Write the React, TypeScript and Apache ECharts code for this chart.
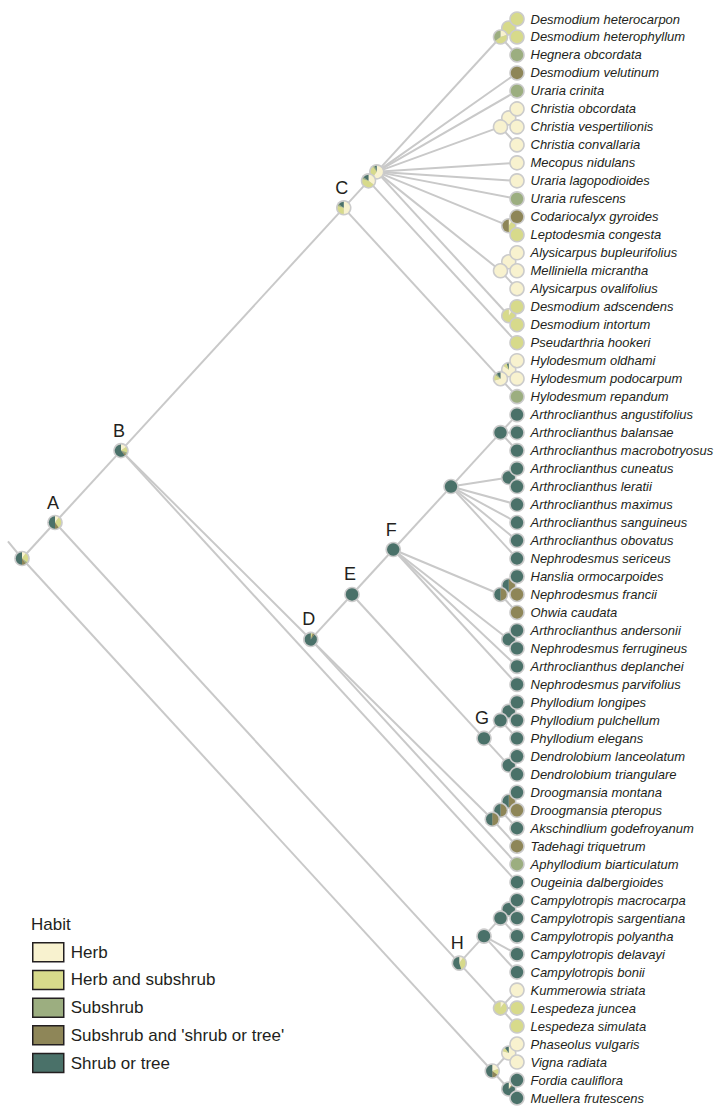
import React, { useEffect, useRef } from "react";
import * as echarts from "echarts";

const habitNames = ["Herb", "Herb and subshrub", "Subshrub", "Subshrub and 'shrub or tree'", "Shrub or tree"];
const habitColors = ["#f8f2cf", "#d7da8b", "#9cae80", "#8e8658", "#4a7169"];

const tipNames = [
  "Desmodium heterocarpon", "Desmodium heterophyllum", "Hegnera obcordata", "Desmodium velutinum",
  "Uraria crinita", "Christia obcordata", "Christia vespertilionis", "Christia convallaria",
  "Mecopus nidulans", "Uraria lagopodioides", "Uraria rufescens", "Codariocalyx gyroides",
  "Leptodesmia congesta", "Alysicarpus bupleurifolius", "Melliniella micrantha", "Alysicarpus ovalifolius",
  "Desmodium adscendens", "Desmodium intortum", "Pseudarthria hookeri", "Hylodesmum oldhami",
  "Hylodesmum podocarpum", "Hylodesmum repandum", "Arthroclianthus angustifolius", "Arthroclianthus balansae",
  "Arthroclianthus macrobotryosus", "Arthroclianthus cuneatus", "Arthroclianthus leratii", "Arthroclianthus maximus",
  "Arthroclianthus sanguineus", "Arthroclianthus obovatus", "Nephrodesmus sericeus", "Hanslia ormocarpoides",
  "Nephrodesmus francii", "Ohwia caudata", "Arthroclianthus andersonii", "Nephrodesmus ferrugineus",
  "Arthroclianthus deplanchei", "Nephrodesmus parvifolius", "Phyllodium longipes", "Phyllodium pulchellum",
  "Phyllodium elegans", "Dendrolobium lanceolatum", "Dendrolobium triangulare", "Droogmansia montana",
  "Droogmansia pteropus", "Akschindlium godefroyanum", "Tadehagi triquetrum", "Aphyllodium biarticulatum",
  "Ougeinia dalbergioides", "Campylotropis macrocarpa", "Campylotropis sargentiana", "Campylotropis polyantha",
  "Campylotropis delavayi", "Campylotropis bonii", "Kummerowia striata", "Lespedeza juncea",
  "Lespedeza simulata", "Phaseolus vulgaris", "Vigna radiata", "Fordia cauliflora", "Muellera frutescens",
];

// 0 Herb, 1 Herb and subshrub, 2 Subshrub, 3 Subshrub and 'shrub or tree', 4 Shrub or tree
const tipHabits = [
  1, 1, 2, 3, 2, 0, 0, 0, 0, 0, 2, 3, 1, 0, 0, 0, 1, 1, 1, 0, 0, 2,
  4, 4, 4, 4, 4, 4, 4, 4, 4,
  4, 3, 3,
  4, 4, 4, 4,
  4, 4, 4, 4, 4,
  4, 3, 4, 3, 2,
  4,
  4, 4, 4, 4, 4,
  0, 1, 1,
  0, 0, 4, 4,
];

// topology (tips referenced by index), internal nodes labelled
const cladeC2 = "(((0,1)n1,2)n2,3,4,((5,6)n3,7)n4,8,9,10,(11,12)n5,((13,14)n6,15)n7,(16,17)n8)n9";
const cladeC = `((${cladeC2},18)n10,((19,20)n11,21)n12)C`;
const cladeF = "(((22,23,24)n13,(25,26)n14,27,28,29,30)n15,((31,32)n16,33)n17,(34,35)n18,36,37)F";
const cladeG = "(((38,39)n19,40)n20,(41,42)n21)G";
const cladeD = `((${cladeF},${cladeG})E,(((43,44)n22,45)n23,46)n24,47)D`;
const cladeH = "((((49,50)n25,51)n26,52,53)n27,(54,55,56)n28)H";
const cladeOut = "((57,58)n29,(59,60)n30)n31";
const newick = `(((${cladeC},${cladeD},48)B,${cladeH})A,${cladeOut})root`;

// ancestral habit proportions [Herb, Herb&subshrub, Subshrub, Subshrub&shrub/tree, Shrub/tree]
const nodePieIds = [
  "root", "A", "B", "C", "n10", "n9", "n2", "n1", "n3", "n4", "n5", "n6", "n7", "n8", "n11", "n12",
  "D", "E", "F", "G", "n13", "n14", "n15", "n16", "n17", "n18", "n19", "n20", "n21", "n22", "n23", "n24",
  "H", "n25", "n26", "n27", "n28", "n29", "n30", "n31",
];
const nodePieValues = [
  [0.1, 0.25, 0.05, 0.1, 0.5], [0.1, 0.3, 0.0, 0.1, 0.5], [0.15, 0.15, 0.05, 0.05, 0.6],
  [0.5, 0.3, 0.05, 0, 0.15], [0.35, 0.45, 0.05, 0, 0.15], [0.6, 0.3, 0.05, 0, 0.05],
  [0.2, 0.45, 0.35, 0, 0], [0, 1, 0, 0, 0], [1, 0, 0, 0, 0], [1, 0, 0, 0, 0],
  [0.1, 0.4, 0, 0.5, 0], [1, 0, 0, 0, 0], [1, 0, 0, 0, 0], [0.1, 0.9, 0, 0, 0],
  [0.85, 0.1, 0, 0, 0.05], [0.7, 0.15, 0.05, 0, 0.1],
  [0, 0.05, 0, 0.05, 0.9], [0, 0, 0, 0, 1], [0, 0, 0, 0, 1], [0, 0, 0, 0, 1],
  [0, 0, 0, 0, 1], [0, 0, 0, 0, 1], [0, 0, 0, 0, 1], [0, 0, 0, 0.5, 0.5], [0, 0, 0, 0.5, 0.5],
  [0, 0, 0, 0, 1], [0, 0, 0, 0, 1], [0, 0, 0, 0, 1], [0, 0, 0, 0, 1],
  [0, 0, 0, 0.5, 0.5], [0, 0, 0, 0.5, 0.5], [0, 0, 0, 0.5, 0.5],
  [0.1, 0.35, 0, 0, 0.55], [0, 0, 0, 0, 1], [0, 0, 0, 0, 1], [0, 0, 0, 0, 1],
  [0.1, 0.9, 0, 0, 0], [0.8, 0.1, 0, 0, 0.1], [0.1, 0, 0, 0.05, 0.85], [0.2, 0.15, 0, 0.15, 0.5],
];
const cladeLetters = ["A", "B", "C", "D", "E", "F", "G", "H"];

type TreeNode = { id: string; children: TreeNode[]; tip: number | null; x: number; y: number };

function parseNewick(s: string): TreeNode {
  let i = 0;
  const parse = (): TreeNode => {
    const node: TreeNode = { id: "", children: [], tip: null, x: 0, y: 0 };
    if (s[i] === "(") {
      i++;
      node.children.push(parse());
      while (s[i] === ",") {
        i++;
        node.children.push(parse());
      }
      i++;
    }
    let lbl = "";
    while (i < s.length && ",()".indexOf(s[i]) < 0) {
      lbl += s[i];
      i++;
    }
    if (node.children.length === 0) node.tip = parseInt(lbl, 10);
    else node.id = lbl;
    return node;
  };
  return parse();
}

const FONT = '"Liberation Sans", Arial, sans-serif';

export default function App() {
  const ref = useRef<HTMLDivElement>(null);
  useEffect(() => {
    if (!ref.current) return;
    const chart = echarts.init(ref.current, undefined, { renderer: "svg" });
    const N = tipNames.length;
    const root = parseNewick(newick);
    const internal: TreeNode[] = [];
    const tips: TreeNode[] = [];
    const layout = (n: TreeNode): number[] => {
      if (n.tip !== null) {
        n.x = N - 1;
        n.y = n.tip;
        tips.push(n);
        return [n.tip];
      }
      const t: number[] = [];
      n.children.forEach((c) => t.push(...layout(c)));
      n.x = N - t.length;
      n.y = t.reduce((a, b) => a + b, 0) / t.length;
      internal.push(n);
      return t;
    };
    layout(root);
    const edges: number[][] = [[root.x - 1.7, root.y - 0.95, root.x, root.y]];
    const walk = (n: TreeNode) => {
      n.children.forEach((c) => {
        edges.push([n.x, n.y, c.x, c.y]);
        walk(c);
      });
    };
    walk(root);
    const pieData = internal.map((n) => {
      const k = nodePieIds.indexOf(n.id);
      const v = k >= 0 ? nodePieValues[k] : [0, 0, 0, 0, 1];
      return [n.x, n.y, ...v];
    });
    tips.sort((a, b) => (a.tip as number) - (b.tip as number));
    const tipData = tips.map((n) => {
      const v = [0, 0, 0, 0, 0];
      v[tipHabits[n.tip as number]] = 1;
      return [n.x, n.y, ...v];
    });
    const letterNodes = internal.filter((n) => cladeLetters.indexOf(n.id) >= 0);
    const letterData = letterNodes.map((n) => [n.x, n.y]);

    const pieRender = (withLabel: boolean) => (params: any, api: any) => {
      const c = api.coord([api.value(0), api.value(1)]);
      const children: any[] = [
        { type: "circle", shape: { cx: c[0], cy: c[1], r: 7.8 }, style: { fill: "#cbcbcb" } },
      ];
      let a = -Math.PI / 2;
      for (let k = 0; k < 5; k++) {
        const v = api.value(2 + k);
        if (v <= 0) continue;
        if (v >= 0.999) {
          children.push({ type: "circle", shape: { cx: c[0], cy: c[1], r: 6.2 }, style: { fill: habitColors[k] } });
        } else {
          children.push({
            type: "sector",
            shape: { cx: c[0], cy: c[1], r: 6.2, r0: 0, startAngle: a, endAngle: a + v * Math.PI * 2, clockwise: true },
            style: { fill: habitColors[k] },
          });
        }
        a += v * Math.PI * 2;
      }
      if (withLabel) {
        children.push({
          type: "text",
          x: c[0] + 13.5,
          y: c[1],
          style: {
            text: tipNames[params.dataIndex],
            fill: "#231f20",
            fontSize: 13,
            fontStyle: "italic",
            fontFamily: FONT,
            align: "left",
            verticalAlign: "middle",
          },
        });
      }
      return { type: "group", children };
    };

    const option: any = {
      animation: false,
      grid: { left: 22, right: 200, top: 19, bottom: 8 },
      xAxis: { type: "value", min: 0, max: N - 1, show: false },
      yAxis: { type: "value", min: 0, max: N - 1, inverse: true, show: false },
      title: {
        text: "Habit",
        left: 31,
        top: 916,
        padding: 0,
        textStyle: { fontSize: 17, fontWeight: "normal", color: "#231f20", fontFamily: FONT },
      },
      legend: {
        orient: "vertical",
        left: 32,
        top: 942,
        itemWidth: 31,
        itemHeight: 19,
        itemGap: 7.2,
        icon: "rect",
        selectedMode: false,
        padding: 0,
        data: habitNames,
        itemStyle: { borderColor: "#231f20", borderWidth: 1.5 },
        textStyle: { fontSize: 17, color: "#231f20", fontFamily: FONT, padding: [0, 0, 0, 2] },
      },
      series: [
        {
          type: "custom",
          silent: true,
          clip: false,
          data: edges,
          encode: { x: [0, 2], y: [1, 3] },
          renderItem: (params: any, api: any) => {
            const p1 = api.coord([api.value(0), api.value(1)]);
            const p2 = api.coord([api.value(2), api.value(3)]);
            return {
              type: "line",
              shape: { x1: p1[0], y1: p1[1], x2: p2[0], y2: p2[1] },
              style: { stroke: "#c9c9c9", lineWidth: 2 },
            };
          },
        },
        {
          type: "custom",
          silent: true,
          clip: false,
          data: pieData,
          encode: { x: 0, y: 1 },
          renderItem: pieRender(false),
        },
        {
          type: "custom",
          silent: true,
          clip: false,
          data: tipData,
          encode: { x: 0, y: 1 },
          renderItem: pieRender(true),
        },
        {
          type: "custom",
          silent: true,
          clip: false,
          data: letterData,
          encode: { x: 0, y: 1 },
          renderItem: (params: any, api: any) => {
            const c = api.coord([api.value(0), api.value(1)]);
            return {
              type: "text",
              x: c[0] - 2,
              y: c[1] - 20,
              style: {
                text: letterNodes[params.dataIndex].id,
                fill: "#231f20",
                fontSize: 18,
                fontFamily: FONT,
                align: "center",
                verticalAlign: "middle",
              },
            };
          },
        },
        ...habitNames.map((name, k) => ({
          type: "bar",
          name,
          data: [],
          itemStyle: { color: habitColors[k] },
        })),
      ],
    };
    chart.setOption(option);
    return () => chart.dispose();
  }, []);
  return <div ref={ref} style={{ position: "absolute", left: 0, top: 0, width: 717, height: 1106 }} />;
}
